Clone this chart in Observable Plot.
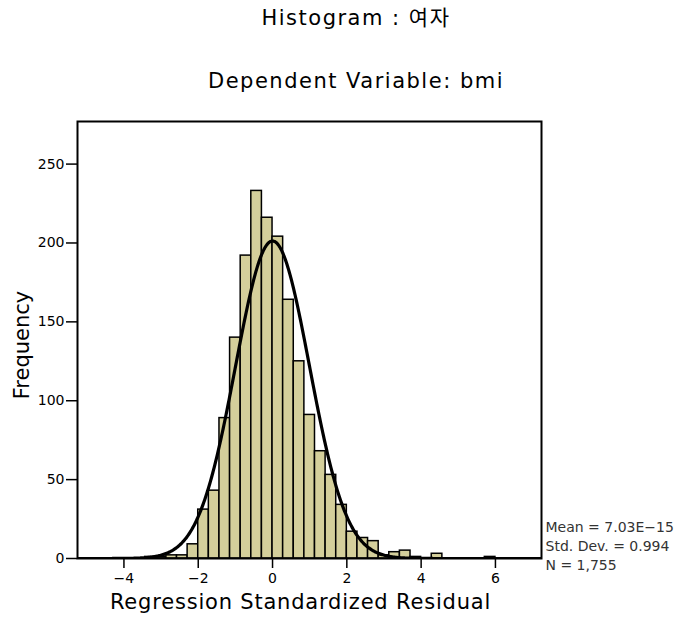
<!DOCTYPE html>
<html>
<head>
<meta charset="utf-8">
<script src="https://cdn.jsdelivr.net/npm/d3@7"></script>
<script src="https://cdn.jsdelivr.net/npm/@observablehq/plot@0.6"></script>
<style>
  html, body { margin: 0; padding: 0; background: #fff; }
  body { width: 677px; height: 625px; position: relative; overflow: hidden;
         font-family: "DejaVu Sans", "Noto Sans CJK KR", sans-serif; }
  #head { position: relative; height: 100px; }
  .ttl { position: absolute; left: 0; width: 712px; text-align: center;
         font-size: 21px; color: #000; line-height: 1; letter-spacing: 1.5px; }
  #t1 { top: 8px; }
  #t2 { top: 71px; }
  #ylab { position: absolute; left: 22px; top: 345px; font-size: 21px; color: #000;
          transform: translate(-50%, -50%) rotate(-90deg); white-space: nowrap; line-height: 1; }
  #chart svg { display: block; }
</style>
</head>
<body>
<div id="head">
  <div class="ttl" id="t1">Histogram : 여자</div>
  <div class="ttl" id="t2">Dependent Variable: bmi</div>
</div>
<div id="chart"></div>
<div id="ylab">Frequency</div>
<script>
// Bin width of the histogram (residual units) and bin indices (bin k spans [k*w, (k+1)*w])
const binWidth = 2 / 7;
const binIndex = [-12, -11, -10, -9, -8, -7, -6, -5, -4, -3, -2, -1, 0, 1, 2, 3, 4, 5, 6, 7, 8, 9, 10, 11, 12, 13, 14, 15, 16, 17, 18, 19, 20];
const binCount = [1, 1, 2, 2, 9, 31, 43, 89, 140, 192, 233, 216, 204, 164, 125, 91, 68, 53, 34, 17, 13, 11, 2, 4, 5, 1, 0, 3, 0, 0, 0, 0, 1];

// Summary statistics shown in the chart
const statMean = 7.03e-15;
const statSD = 0.994;
const statN = 1755;
const statLabels = ["Mean = 7.03E\u221215", "Std. Dev. = 0.994", "N = 1,755"];

// Axis ticks
const xTicks = [-4, -2, 0, 2, 4, 6];
const yTicks = [0, 50, 100, 150, 200, 250];
const xDomain = [-5.25, 7.24];
const yDomain = [0, 277];
const xLabel = "Regression Standardized Residual";

const bins = binIndex.map((k, i) => ({x1: k * binWidth, x2: (k + 1) * binWidth, count: binCount[i]}))
  .filter(d => d.count > 0);

// Normal curve implied by mean, sd and N
const scaleF = statN * binWidth / (statSD * Math.sqrt(2 * Math.PI));
const curve = d3.range(xDomain[0], xDomain[1] + 0.001, 0.02).map(x => ({
  x, y: scaleF * Math.exp(-0.5 * ((x - statMean) / statSD) ** 2)
}));

const statOffsets = [-27, -8, 11];

const plot = Plot.plot({
  width: 677,
  height: 525,
  marginTop: 21,
  marginLeft: 77,
  marginRight: 136,
  marginBottom: 67,
  style: {fontFamily: "DejaVu Sans, Noto Sans CJK KR, sans-serif", color: "#000", background: "#fff"},
  x: {domain: xDomain},
  y: {domain: yDomain},
  marks: [
    Plot.rectY(bins, {x1: "x1", x2: "x2", y: "count", fill: "#d4cf9b", stroke: "#000", strokeWidth: 1.5, inset: 0}),
    Plot.line(curve, {x: "x", y: "y", stroke: "#000", strokeWidth: 3.2, clip: true}),
    Plot.frame({stroke: "#000", strokeWidth: 2}),
    Plot.axisX({ticks: xTicks, tickSize: 10, tickPadding: 5, fontSize: 14, label: null, tickFormat: d => d < 0 ? "\u2212" + Math.abs(d) : String(d), strokeWidth: 1.5}),
    Plot.axisY({ticks: yTicks, tickSize: 11, tickPadding: 2, fontSize: 14, label: null, strokeWidth: 1.5}),
    Plot.text([xLabel], {frameAnchor: "bottom", dy: 50, dx: -9, fontSize: 21, fill: "#000"}),
    ...statLabels.map((s, i) => Plot.text([s], {frameAnchor: "bottom-right", textAnchor: "start", dx: 4, dy: statOffsets[i], fontSize: 14, fill: "#333"}))
  ]
});
d3.select(plot).selectAll("text").filter(function () { return this.textContent === xLabel; })
  .style("letter-spacing", "0.8px");
document.getElementById("chart").appendChild(plot);
</script>
</body>
</html>
